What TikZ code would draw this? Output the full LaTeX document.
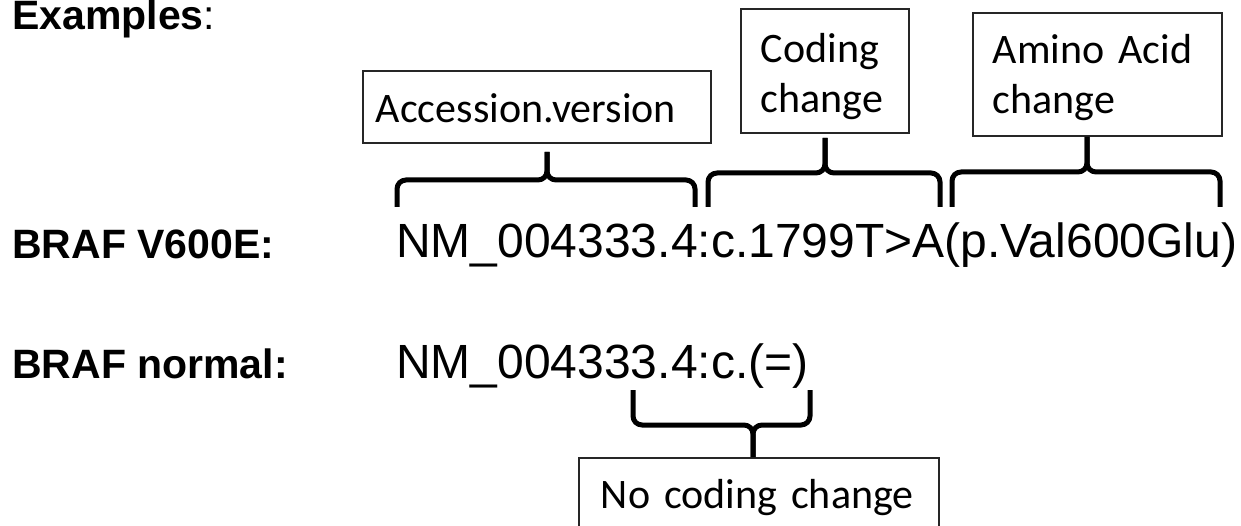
\documentclass[tikz,border=0pt]{standalone}
\usepackage{fontspec}
\setmainfont{Liberation Sans}
\newfontfamily\calibri{Carlito}
\usepackage{tikz}
\tikzstyle{namelabel} = [inner sep=0pt, anchor=base west, font=\bfseries\fontsize{41pt}{48pt}\selectfont]
\tikzstyle{hgvs} = [inner sep=0pt, anchor=base west, font=\fontsize{48pt}{56pt}\selectfont]
\tikzstyle{infobox} = [rectangle, draw=black!85, line width=1.8pt, inner ysep=0pt, anchor=north west, align=left, font=\calibri\fontsize{42pt}{50pt}\selectfont]
\tikzstyle{curly} = [line width=5pt, rounded corners=9pt]

\begin{document}
\begin{tikzpicture}[x=1pt, y=-1pt]
            \useasboundingbox (0,0) rectangle (1241,526);

            \node (examples) [namelabel] at (12,30) {Examples\mdseries:};
            \node (mutname) [namelabel] at (12,259) {BRAF V600E:};
            \node (normname) [namelabel] at (12,378) {BRAF normal:};

            \node (mutseq) [hgvs] at (396,258) {NM\_004333.4:c.1799T>A(p.Val600Glu)};
            \node (normseq) [hgvs] at (396,378) {NM\_004333.4:c.(=)};

            \node (acc) [infobox, text height=52pt, text depth=20pt, inner xsep=13pt, text width=322pt] at (362,70) {Accession.version};
            \node (cod) [infobox, text height=54pt, text depth=70pt, inner xsep=20pt, text width=128pt] at (740,8) {Coding\\change};
            \node (ami) [infobox, text height=51pt, text depth=72pt, inner xsep=20pt, text width=209pt] at (972,12) {Amino Acid\\change};
            \node (noc) [infobox, text height=51pt, text depth=32pt, inner xsep=22pt, text width=316pt] at (578,457) {No coding change};

            % braces under the boxes
            \draw [curly] (397,207) |- (547,180) -- (547,152);
            \draw [curly] (695,207) |- (547,180) -- (547,152);
            \draw [curly] (708,207) |- (825,173) -- (825,138);
            \draw [curly] (940,207) |- (825,173) -- (825,138);
            \draw [curly] (952,207) |- (1087,172) -- (1087,137);
            \draw [curly] (1220,207) |- (1087,172) -- (1087,137);
            \draw [curly] (633,390) |- (753,425) -- (noc.north -| 753,0);
            \draw [curly] (810,390) |- (753,425) -- (noc.north -| 753,0);
        \end{tikzpicture}
\end{document}
